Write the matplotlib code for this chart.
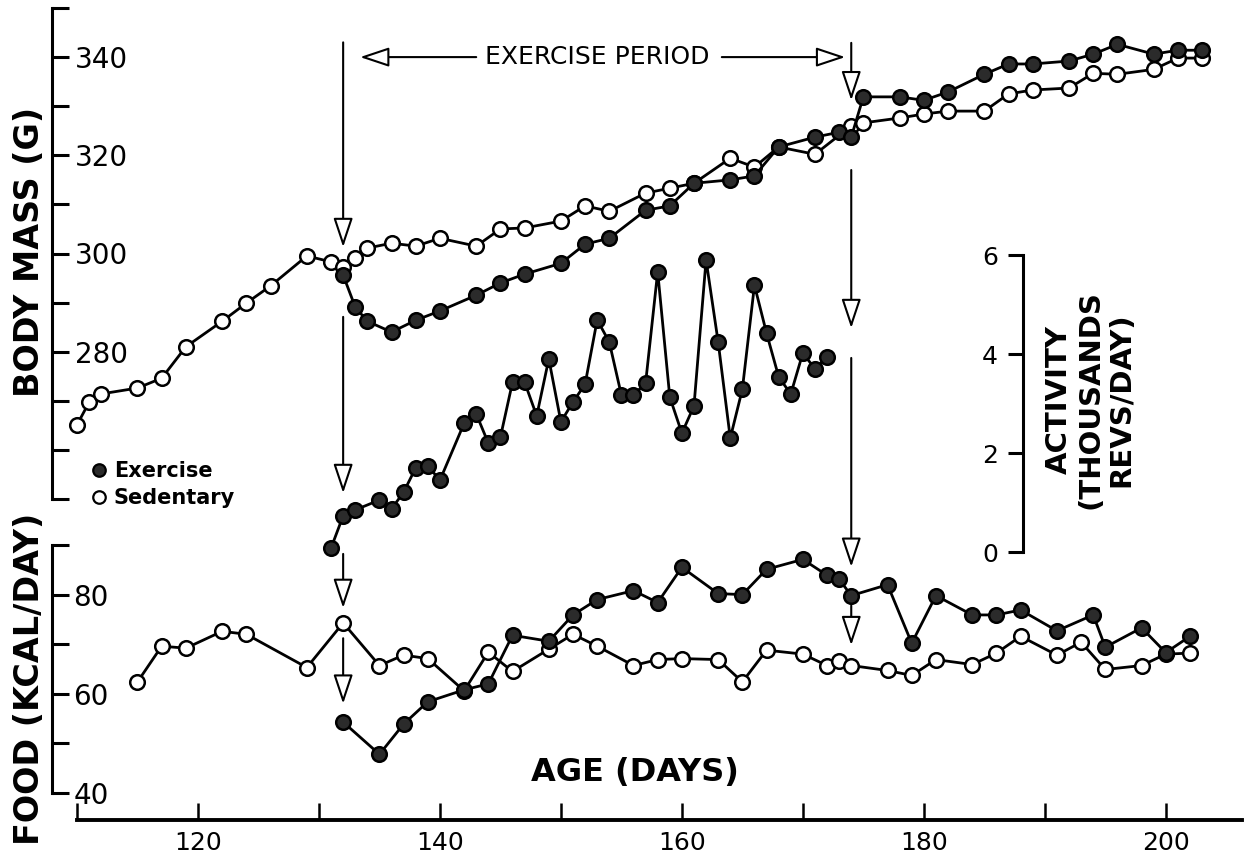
import matplotlib
matplotlib.use("Agg")
import matplotlib.pyplot as plt
from matplotlib.lines import Line2D

# Body mass (g), sedentary rats
mass_sed_days = [110, 111, 112, 115, 117, 119, 122, 124, 126, 129, 131, 132, 133, 134, 136, 138, 140,
                 143, 145, 147, 150, 152, 154, 157, 159, 161, 164, 166, 168, 171, 174, 175, 178, 180,
                 182, 185, 187, 189, 192, 194, 196, 199, 201, 203]
mass_sed = [265.1, 269.7, 271.4, 272.6, 274.6, 281.0, 286.2, 289.9, 293.4, 299.5, 298.3, 297.2, 299.1,
            301.1, 302.1, 301.5, 303.1, 301.5, 305.0, 305.2, 306.6, 309.7, 308.6, 312.3, 313.3, 314.3,
            319.4, 317.6, 321.7, 320.2, 326.0, 326.6, 327.6, 328.4, 329.0, 329.0, 332.5, 333.3, 333.7,
            336.7, 336.5, 337.5, 339.8, 339.8]

# Body mass (g), exercised rats
mass_ex_days = [132, 133, 134, 136, 138, 140, 143, 145, 147, 150, 152, 154, 157, 159, 161, 164, 166,
                168, 171, 173, 174, 175, 178, 180, 182, 185, 187, 189, 192, 194, 196, 199, 201, 203]
mass_ex = [295.6, 289.1, 286.2, 284.0, 286.4, 288.3, 291.5, 294.0, 295.8, 298.0, 301.9, 303.1, 308.8,
           309.7, 314.3, 315.0, 315.8, 321.7, 323.7, 324.7, 323.7, 331.9, 331.9, 331.2, 332.9, 336.5,
           338.6, 338.6, 339.2, 340.6, 342.6, 340.6, 341.4, 341.4]

# Wheel activity (thousand revs/day)
act_days = [131, 132, 133, 135, 136, 137, 138, 139, 140, 142, 143, 144, 145, 146, 147, 148, 149, 150,
            151, 152, 153, 154, 155, 156, 157, 158, 159, 160, 161, 162, 163, 164, 165, 166, 167, 168,
            169, 170, 171, 172]
act = [0.08, 0.73, 0.85, 1.05, 0.87, 1.21, 1.70, 1.74, 1.45, 2.60, 2.79, 2.20, 2.32, 3.43, 3.43, 2.75,
       3.90, 2.63, 3.03, 3.39, 4.69, 4.24, 3.17, 3.17, 3.41, 5.66, 3.13, 2.40, 2.95, 5.90, 4.24, 2.30,
       3.29, 5.39, 4.42, 3.54, 3.19, 4.02, 3.70, 3.94]

# Food intake (kcal/day)
food_sed_days = [115, 117, 119, 122, 124, 129, 132, 135, 137, 139, 142, 144, 146, 149, 151, 153, 156,
                 158, 160, 163, 165, 167, 170, 172, 173, 174, 177, 179, 181, 184, 186, 188, 191, 193,
                 195, 198, 200, 202]
food_sed = [62.4, 69.6, 69.2, 72.6, 72.0, 65.3, 74.3, 65.7, 67.8, 67.1, 60.6, 68.4, 64.5, 69.0, 72.0,
            69.6, 65.7, 66.9, 67.1, 66.9, 62.4, 68.8, 68.0, 65.7, 66.7, 65.7, 64.7, 63.7, 66.9, 65.9,
            68.2, 71.6, 67.8, 70.4, 64.9, 65.7, 68.0, 68.2]
food_ex_days = [132, 135, 137, 139, 142, 144, 146, 149, 151, 153, 156, 158, 160, 163, 165, 167, 170,
                172, 173, 174, 177, 179, 181, 184, 186, 188, 191, 194, 195, 198, 200, 202]
food_ex = [54.3, 47.8, 53.9, 58.4, 60.8, 62.0, 71.8, 70.6, 75.9, 79.0, 80.8, 78.4, 85.5, 80.2, 80.0,
           85.1, 87.1, 83.9, 83.1, 79.8, 82.0, 70.2, 79.8, 75.9, 75.9, 76.9, 72.7, 75.9, 69.4, 73.3,
           68.3, 71.6]

ex_start, ex_end = 132, 174

W, H = 1247, 859
fig = plt.figure(figsize=(W / 100, H / 100), dpi=100)


def box(x0, y0, x1, y1):
    # pixel box (origin top-left) -> figure fraction
    return [x0 / W, 1 - y1 / H, (x1 - x0) / W, (y1 - y0) / H]


ax_m = fig.add_axes(box(77, 8, 1242, 499))
ax_a = fig.add_axes(box(77, 255, 1242, 552))
ax_f = fig.add_axes(box(77, 545, 1242, 793))
for ax in (ax_m, ax_a, ax_f):
    ax.set_xlim(110, 206.3)
    ax.patch.set_visible(False)
    for s in ax.spines.values():
        s.set_visible(False)
    ax.tick_params(which="both", bottom=False, labelbottom=False, left=False, labelleft=False)

SPW = 2.2
ink = "black"
fill = "#2b2b2b"
mk = dict(marker="o", ms=10.5, mew=1.8, mec=ink, color=ink, lw=2.0, clip_on=False)

# body mass
ax_m.set_ylim(250, 350)
ax_m.spines["left"].set_visible(True)
ax_m.spines["left"].set_position(("outward", 18))
ax_m.spines["left"].set_linewidth(SPW)
ax_m.set_yticks([280, 300, 320, 340])
ax_m.set_yticks([250, 260, 270, 290, 310, 330, 350], minor=True)
ax_m.tick_params(which="both", left=True, labelleft=True, direction="in", length=12, width=SPW,
                 pad=-16.5, labelsize=20)
ax_m.plot(mass_sed_days, mass_sed, mfc="white", zorder=3, **mk)
ax_m.plot(mass_ex_days, mass_ex, mfc=fill, zorder=4, **mk)

# activity
ax_a.set_ylim(0, 6)
ax_a.spines["left"].set_visible(True)
ax_a.spines["left"].set_position(("axes", 0.812))
ax_a.spines["left"].set_linewidth(SPW)
ax_a.set_yticks([0, 2, 4, 6])
ax_a.tick_params(left=True, labelleft=True, direction="out", length=11, width=SPW, pad=7, labelsize=18)
ax_a.plot(act_days, act, mfc=fill, zorder=4, **mk)

# food + age axis
ax_f.set_ylim(40, 90)
ax_f.spines["left"].set_visible(True)
ax_f.spines["left"].set_position(("outward", 18))
ax_f.spines["left"].set_linewidth(SPW)
ax_f.spines["bottom"].set_visible(True)
ax_f.spines["bottom"].set_position(("outward", 19.4))
ax_f.spines["bottom"].set_linewidth(SPW + 0.6)
ax_f.set_yticks([40, 60, 80])
ax_f.set_yticks([50, 70, 90], minor=True)
ax_f.tick_params(axis="y", which="both", left=True, labelleft=True, direction="in", length=12,
                 width=SPW, pad=-15.5, labelsize=20)
ax_f.set_xticks([120, 140, 160, 180, 200])
ax_f.set_xticks([110, 130, 150, 170, 190], minor=True)
ax_f.tick_params(axis="x", which="both", bottom=True, labelbottom=True, direction="in", length=12,
                 width=1.8, pad=8, labelsize=18)
ax_f.plot(food_sed_days, food_sed, mfc="white", zorder=3, **mk)
ax_f.plot(food_ex_days, food_ex, mfc=fill, zorder=4, **mk)

for ax in (ax_m, ax_f):
    for lbl in ax.get_yticklabels():
        lbl.set_horizontalalignment("left")

# arrows marking start and end of exercise
arr = dict(arrowstyle="-|>,head_length=0.9,head_width=0.3", mutation_scale=20, lw=1.5,
           fc="white", ec=ink, shrinkA=0, shrinkB=0)
for ax, d, y0, y1 in [(ax_m, ex_start, 343.0, 301.3), (ax_a, ex_start, 4.75, 1.19),
                      (ax_f, ex_start, 88.2, 77.3), (ax_f, ex_start, 71.2, 58.0),
                      (ax_m, ex_end, 342.9, 331.2), (ax_m, ex_end, 317.0, 284.8),
                      (ax_a, ex_end, 3.92, -0.3), (ax_f, ex_end, 77.8, 69.8)]:
    ax.annotate("", xy=(d, y1), xytext=(d, y0), arrowprops=arr, annotation_clip=False)

mid = (ex_start + ex_end) / 2
ax_m.text(mid, 340, "EXERCISE PERIOD", ha="center", va="center", fontsize=18)
ax_m.annotate("", xy=(ex_start + 1.4, 340), xytext=(mid - 10.0, 340), arrowprops=arr)
ax_m.annotate("", xy=(ex_end - 0.5, 340), xytext=(mid + 10.3, 340), arrowprops=arr)

# axis titles
fig.text(30 / W, 1 - 252 / H, "BODY MASS (G)", rotation=90, ha="center", va="center",
         fontsize=24, fontweight="bold")
fig.text(30 / W, 1 - 679 / H, "FOOD (KCAL/DAY)", rotation=90, ha="center", va="center",
         fontsize=24, fontweight="bold")
fig.text(635 / W, 1 - 772 / H, "AGE (DAYS)", ha="center", va="center", fontsize=23, fontweight="bold")
fig.text(1090 / W, 1 - 400 / H, "ACTIVITY\n(THOUSANDS\nREVS/DAY)", rotation=90, ha="center",
         va="center", multialignment="center", fontsize=21, fontweight="bold", linespacing=1.15)

handles = [Line2D([], [], ls="none", marker="o", ms=9, mew=1.6, mec=ink, mfc=fill),
           Line2D([], [], ls="none", marker="o", ms=9, mew=1.6, mec=ink, mfc="white")]
fig.legend(handles, ["Exercise", "Sedentary"], loc="upper left", bbox_to_anchor=(93 / W, 1 - 461 / H),
           frameon=False, prop={"size": 15, "weight": "bold"}, handlelength=0.6, handletextpad=0.4,
           labelspacing=0.35, borderpad=0, borderaxespad=0)

fig.savefig("out.png", dpi=100)
